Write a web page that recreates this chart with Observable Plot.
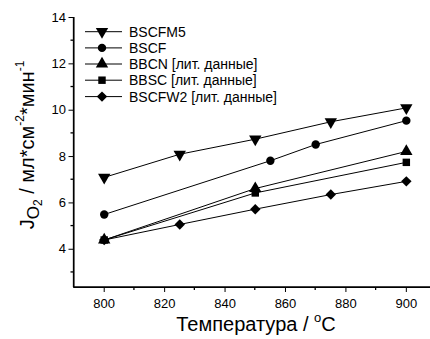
<!DOCTYPE html>
<html><head><meta charset="utf-8">
<script src="https://cdn.jsdelivr.net/npm/d3@7"></script>
<script src="https://cdn.jsdelivr.net/npm/@observablehq/plot@0.6"></script>
<style>
body{margin:0;background:#fff;overflow:hidden}
svg{font-family:Arial,"Liberation Sans",sans-serif}
</style>
</head><body><div id="chart"></div>
<script>
// ---- data ----
const seriesNames = ["BSCFM5","BSCF","BBCN [лит. данные]","BBSC [лит. данные]","BSCFW2 [лит. данные]"];
const bscfm5T = [800,825,850,875,900];
const bscfm5J = [7.1,8.1,8.75,9.5,10.1];
const bscfT = [800,855,870,900];
const bscfJ = [5.5,7.82,8.52,9.55];
const bbcnT = [800,850,900];
const bbcnJ = [4.4,6.62,8.22];
const bbscT = [800,850,900];
const bbscJ = [4.4,6.43,7.75];
const bscfw2T = [800,825,850,875,900];
const bscfw2J = [4.4,5.07,5.73,6.36,6.93];
const xTicks = [800,820,840,860,880,900];
const xMinor = [810,830,850,870,890];
const yTicks = [4,6,8,10,12,14];
const yMinor = [3,5,7,9,11,13];
const xLabel = "Температура / ";
const xLabelSup = "o";
const xLabelEnd = "C";

// ---- build table ----
const seriesT = [bscfm5T,bscfT,bbcnT,bbscT,bscfw2T];
const seriesJ = [bscfm5J,bscfJ,bbcnJ,bbscJ,bscfw2J];
const data = [];
seriesNames.forEach((s,i)=>seriesT[i].forEach((t,k)=>data.push({series:s,T:t,J:seriesJ[i][k]})));

const triDown = {draw(ctx,size){const y=-Math.sqrt(size/(Math.sqrt(3)*3));ctx.moveTo(0,-y*2);ctx.lineTo(-Math.sqrt(3)*y,y);ctx.lineTo(Math.sqrt(3)*y,y);ctx.closePath();}};
const triUp = {draw(ctx,size){const y=-Math.sqrt(size/(Math.sqrt(3)*3));ctx.moveTo(0,y*2);ctx.lineTo(-Math.sqrt(3)*y,-y);ctx.lineTo(Math.sqrt(3)*y,-y);ctx.closePath();}};
const sym = [triDown, d3.symbolCircle, triUp, d3.symbolSquare, d3.symbolDiamond2];
const rads = [4.6, 4.2, 4.6, 4.2, 4.7];

const W=430,H=339, mL=73.5, mR=0, mT=17, mB=52;
const marks = [
  Plot.line(data,{x:"T",y:"J",z:"series",stroke:"black",strokeWidth:1})
];
seriesNames.forEach((s,i)=>{
  marks.push(Plot.dot(data.filter(d=>d.series===s),{x:"T",y:"J",symbol:sym[i],r:rads[i],fill:"black",stroke:"none"}));
});

const plot = Plot.plot({
  width:W,height:H,marginLeft:mL,marginRight:mR,marginTop:mT,marginBottom:mB,
  style:{fontSize:"13px",fontFamily:"Arial, 'Liberation Sans', sans-serif",background:"#fff",color:"#000"},
  x:{domain:[790,908],ticks:xTicks,tickFormat:d3.format("d"),tickSize:5,tickPadding:6,label:null,line:true},
  y:{domain:[2.35,14],ticks:yTicks,tickFormat:d3.format("d"),tickSize:5,tickPadding:3,label:null,line:true},
  marks
});
document.getElementById("chart").appendChild(plot);

const svg = d3.select(plot);
const xs = plot.scale("x"), ys = plot.scale("y");
const y0 = H-mB, x0 = mL;
const g = svg.append("g").attr("stroke","#000").attr("stroke-width",1.3);
g.append("line").attr("x1",x0).attr("x2",W).attr("y1",y0).attr("y2",y0);
g.append("line").attr("x1",x0).attr("x2",x0).attr("y1",y0).attr("y2",ys.apply(14));
xMinor.forEach(v=>g.append("line").attr("x1",xs.apply(v)).attr("x2",xs.apply(v)).attr("y1",y0).attr("y2",y0+3));
yMinor.forEach(v=>g.append("line").attr("y1",ys.apply(v)).attr("y2",ys.apply(v)).attr("x1",x0).attr("x2",x0-3));

// legend
const leg = svg.append("g").attr("text-anchor","start");
const rowY = [31.7,47.9,64,80.2,96.6];
seriesNames.forEach((s,i)=>{
  const gy=rowY[i];
  leg.append("line").attr("x1",85).attr("x2",122).attr("y1",gy).attr("y2",gy).attr("stroke","#000").attr("stroke-width",1);
  leg.append("path").attr("transform",`translate(102,${gy})`).attr("d",d3.symbol(sym[i],Math.PI*rads[i]*rads[i])()).attr("fill","#000");
  leg.append("text").attr("x",129).attr("y",gy).attr("dy","0.36em").attr("font-size",14).attr("fill","#000").attr("text-anchor","start").text(s);
});

// x label
const xl = svg.append("text").attr("x",256).attr("y",331).attr("text-anchor","middle").attr("font-size",20).attr("fill","#000");
xl.append("tspan").text(xLabel);
xl.append("tspan").attr("font-size",13).attr("dy",-9).text(xLabelSup);
xl.append("tspan").attr("dy",9).text(xLabelEnd);

// y label
const yl = svg.append("text").attr("transform","translate(34,145) rotate(-90)").attr("text-anchor","middle").attr("font-size",20).attr("fill","#000");
yl.append("tspan").text("J");
yl.append("tspan").attr("font-size",17).attr("dy",5).text("O");
yl.append("tspan").attr("font-size",12).attr("dy",3).text("2");
yl.append("tspan").attr("dy",-8).text(" / мл*см");
yl.append("tspan").attr("font-size",12).attr("dy",-10).text("-2");
yl.append("tspan").attr("dy",10).text("*мин");
yl.append("tspan").attr("font-size",12).attr("dy",-10).text("-1");
</script>
</body></html>
